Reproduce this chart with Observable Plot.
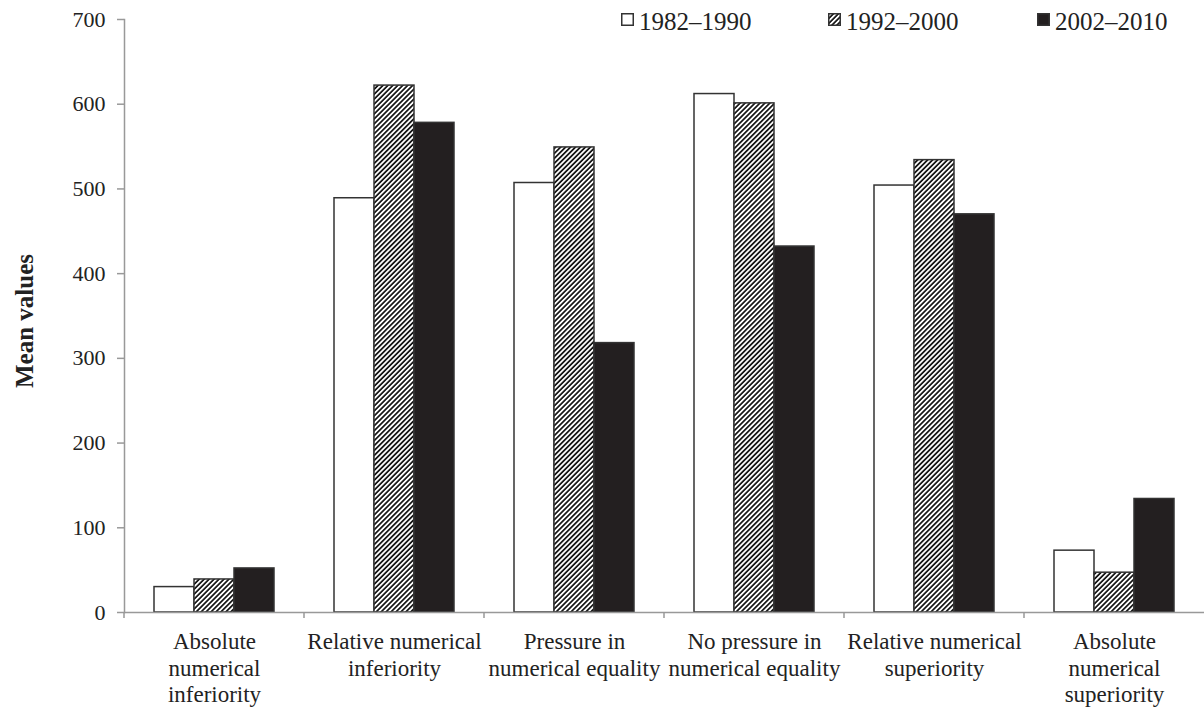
<!DOCTYPE html>
<html><head><meta charset="utf-8">
<script src="https://cdn.jsdelivr.net/npm/d3@7"></script>
<script src="https://cdn.jsdelivr.net/npm/@observablehq/plot@0.6"></script>
<style>
body{margin:0;background:#fff;}
#wrap{position:relative;width:1204px;height:711px;font-family:"Liberation Serif","Times New Roman",serif;color:#222;}
#ylab{position:absolute;left:25px;top:321px;transform:translate(-50%,-50%) rotate(-90deg);font-weight:bold;font-size:25px;white-space:nowrap;}
#legend{position:absolute;top:9px;left:0;width:1204px;height:30px;font-size:25px;line-height:25px;}
#legend .item{position:absolute;top:0;display:flex;align-items:flex-end;gap:5px;}
#legend svg{margin-bottom:8px;}
</style></head>
<body><div id="wrap"><div id="chart"></div><div id="ylab">Mean values</div><div id="legend"></div></div>
<script>
const categories = ["Absolute numerical inferiority","Relative numerical inferiority","Pressure in numerical equality","No pressure in numerical equality","Relative numerical superiority","Absolute numerical superiority"];
const categoryLabels = ["Absolute\nnumerical\ninferiority","Relative numerical\ninferiority","Pressure in\nnumerical equality","No pressure in\nnumerical equality","Relative numerical\nsuperiority","Absolute\nnumerical\nsuperiority"];
const periods = ["1982–1990","1992–2000","2002–2010"];
const values1982 = [30, 489, 507, 612, 504, 73];
const values1992 = [39, 622, 549, 601, 534, 47];
const values2002 = [52, 578, 318, 432, 470, 134];
const yTicks = [0,100,200,300,400,500,600,700];
const periodFills = ["white","url(#hatch)","#231f20"];
const legendLefts = [621, 828, 1037];

const series = [values1982, values1992, values2002];
const data = [];
categories.forEach((c,i)=>periods.forEach((p,j)=>data.push({cat:c, period:p, value:series[j][i], fill:periodFills[j]})));
const labelOf = new Map(categories.map((c,i)=>[c,categoryLabels[i]]));

const boundaryTicks = (index, scales, values, dim) => {
  const l = document.createElementNS("http://www.w3.org/2000/svg","line");
  const y0 = dim.height - dim.marginBottom;
  l.setAttribute("x1", dim.marginLeft); l.setAttribute("x2", dim.marginLeft);
  l.setAttribute("y1", y0); l.setAttribute("y2", y0 + 6);
  l.setAttribute("stroke", "#999"); l.setAttribute("stroke-width", 1.5);
  return l;
};

const chart = Plot.plot({
  width: 1204, height: 711,
  marginLeft: 124, marginRight: 0, marginTop: 19, marginBottom: 99,
  style: {fontFamily: "'Liberation Serif','Times New Roman',serif", fontSize: "22px", color: "#222", background: "white", overflow: "visible"},
  fx: {domain: categories, padding: 0, label: null, axis: null},
  x: {domain: periods, paddingInner: 0, paddingOuter: 0.75, axis: null},
  y: {domain: [0,700], axis: null},
  color: {type: "identity"},
  marks: [
    Plot.barY(data, {fx: "cat", x: "period", y: "value", fill: "fill", stroke: "#333", strokeWidth: 1.5}),
    Plot.ruleY([0], {stroke: "#999", strokeWidth: 1.5}),
    Plot.frame({anchor: "left", facetAnchor: "left", stroke: "#999", strokeWidth: 1.5}),
    Plot.axisY({ticks: yTicks, tickSize: 7, tickPadding: 12, stroke: "#999", strokeWidth: 1.5, fill: "#222", label: null, fontSize: 22}),
    Plot.axisFx({anchor: "bottom", tickSize: 0, tickPadding: 17, tickFormat: d => labelOf.get(d), lineHeight: 1.17, fontSize: 23, fill: "#222", label: null}),
    boundaryTicks
  ]
});
const defs = `<defs><pattern id="hatch" patternUnits="userSpaceOnUse" width="3.5" height="3.5" patternTransform="rotate(45)"><rect width="3.5" height="3.5" fill="white"/><line x1="0.9" y1="0" x2="0.9" y2="3.5" stroke="#111" stroke-width="1.7"/></pattern></defs>`;
chart.insertAdjacentHTML("afterbegin", defs);
document.getElementById("chart").appendChild(chart);

const legend = document.getElementById("legend");
periods.forEach((p,j)=>{
  const item = document.createElement("div"); item.className = "item";
  item.style.left = legendLefts[j] + "px";
  item.innerHTML = `<svg width="13" height="13"><rect x="0.75" y="0.75" width="11.5" height="11.5" fill="${periodFills[j]}" stroke="#333" stroke-width="1.5"/></svg><span>${p}</span>`;
  legend.appendChild(item);
});
</script></body></html>
